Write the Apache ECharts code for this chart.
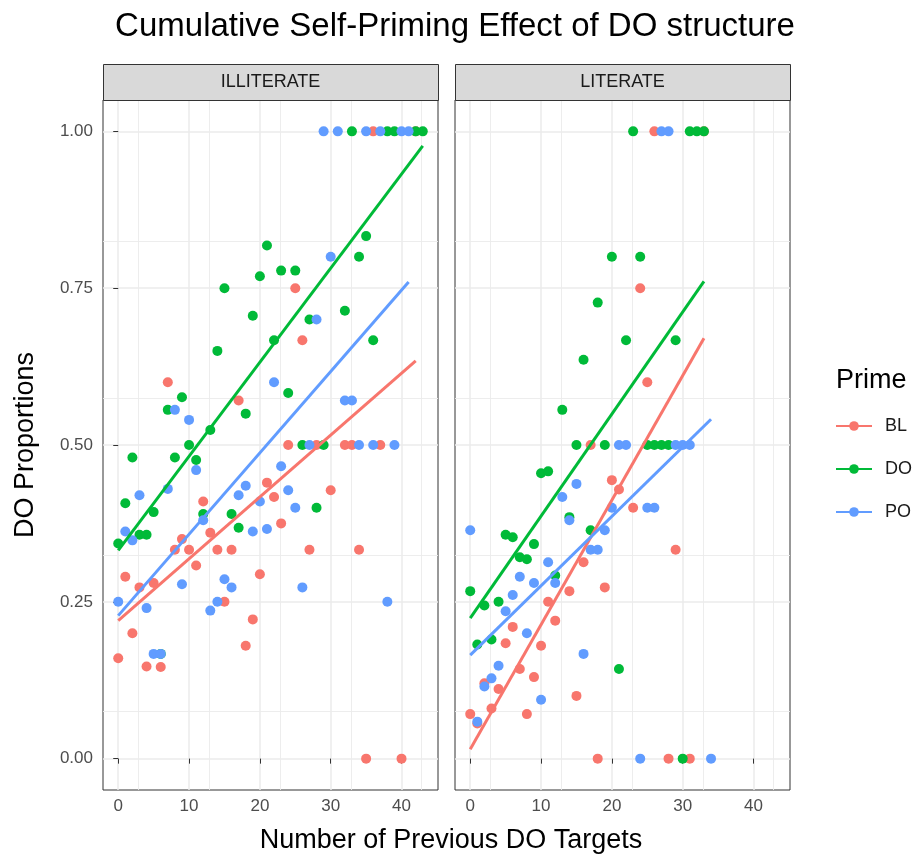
<!DOCTYPE html>
<html>
<head>
<meta charset="utf-8">
<script src="https://cdn.jsdelivr.net/npm/echarts@6/dist/echarts.min.js"></script>
<style>
html, body { margin: 0; padding: 0; background: #ffffff; }
#chart { width: 924px; height: 859px; }
</style>
</head>
<body>
<div id="chart"></div>
<script>
// Facets, prime conditions and axis ticks
const panels = ['ILLITERATE', 'LITERATE'];
const primes = ['BL', 'DO', 'PO'];
const primeColors = ['#F8766D', '#00BA38', '#619CFF'];
const xTicks = [0, 10, 20, 30, 40];
const yTicks = [0, 0.25, 0.5, 0.75, 1];

// ILLITERATE: [previous DO targets, DO proportion]
const illiterateBL = [
  [0,0.16],[1,0.29],[2,0.2],[3,0.273],[4,0.147],[5,0.28],[6,0.146],[7,0.6],[8,0.333],[9,0.35],
  [10,0.333],[11,0.308],[12,0.41],[13,0.36],[14,0.333],[15,0.25],[16,0.333],[17,0.571],[18,0.18],[19,0.222],
  [20,0.294],[21,0.44],[22,0.417],[23,0.375],[24,0.5],[25,0.75],[26,0.667],[27,0.333],[28,0.5],[30,0.428],
  [32,0.5],[33,0.5],[34,0.333],[35,0],[36,1],[37,0.5],[40,0],[42,1]
];
const illiterateDO = [
  [0,0.343],[1,0.407],[2,0.48],[3,0.357],[4,0.357],[5,0.393],[6,0.167],[7,0.556],[8,0.48],[9,0.576],
  [10,0.5],[11,0.476],[12,0.39],[13,0.524],[14,0.65],[15,0.75],[16,0.39],[17,0.368],[18,0.55],[19,0.706],
  [20,0.769],[21,0.818],[22,0.667],[23,0.778],[24,0.583],[25,0.778],[26,0.5],[27,0.7],[28,0.4],[29,0.5],
  [32,0.714],[33,1],[34,0.8],[35,0.833],[36,0.667],[38,1],[39,1],[42,1],[43,1]
];
const illiteratePO = [
  [0,0.25],[1,0.362],[2,0.348],[3,0.42],[4,0.24],[5,0.167],[6,0.167],[7,0.43],[8,0.556],[9,0.278],
  [10,0.54],[11,0.46],[12,0.38],[13,0.236],[14,0.25],[15,0.286],[16,0.273],[17,0.42],[18,0.435],[19,0.362],
  [20,0.41],[21,0.366],[22,0.6],[23,0.466],[24,0.428],[25,0.4],[26,0.273],[27,0.5],[28,0.7],[29,1],
  [30,0.8],[31,1],[32,0.571],[33,0.571],[34,0.5],[35,1],[36,0.5],[37,1],[38,0.25],[39,0.5],[40,1],[41,1]
];

// LITERATE
const literateBL = [
  [0,0.071],[1,0.056],[2,0.12],[3,0.08],[4,0.111],[5,0.184],[6,0.21],[7,0.143],[8,0.071],[9,0.13],
  [10,0.18],[11,0.25],[12,0.22],[14,0.267],[15,0.1],[16,0.313],[17,0.5],[18,0],[19,0.273],[20,0.444],
  [21,0.429],[23,0.4],[24,0.75],[25,0.6],[26,1],[28,0],[29,0.333],[31,0],[33,1]
];
const literateDO = [
  [0,0.267],[1,0.182],[2,0.244],[3,0.19],[4,0.25],[5,0.357],[6,0.353],[7,0.321],[8,0.318],[9,0.342],
  [10,0.455],[11,0.458],[12,0.292],[13,0.556],[14,0.385],[15,0.5],[16,0.636],[17,0.364],[18,0.727],[19,0.5],
  [20,0.8],[21,0.143],[22,0.667],[23,1],[24,0.8],[25,0.5],[26,0.5],[27,0.5],[28,0.5],[29,0.667],
  [30,0],[31,1],[32,1],[33,1]
];
const literatePO = [
  [0,0.364],[1,0.059],[2,0.115],[3,0.128],[4,0.148],[5,0.235],[6,0.261],[7,0.29],[8,0.2],[9,0.28],
  [10,0.094],[11,0.313],[12,0.28],[13,0.417],[14,0.38],[15,0.438],[16,0.167],[17,0.333],[18,0.333],[19,0.364],
  [20,0.4],[21,0.5],[22,0.5],[24,0],[25,0.4],[26,0.4],[27,1],[28,1],[29,0.5],[30,0.5],[31,0.5],[34,0]
];

// Linear fits (start and end of each fitted line)
const fitIlliterateBL = [[0,0.22],[42,0.634]];
const fitIlliterateDO = [[0,0.332],[43,0.977]];
const fitIlliteratePO = [[0,0.228],[41,0.76]];
const fitLiterateBL = [[0,0.015],[33,0.67]];
const fitLiterateDO = [[0,0.224],[33,0.761]];
const fitLiteratePO = [[0,0.165],[34,0.541]];

const pointsByPanel = [
  [illiterateBL, illiterateDO, illiteratePO],
  [literateBL, literateDO, literatePO]
];
const fitsByPanel = [
  [fitIlliterateBL, fitIlliterateDO, fitIlliteratePO],
  [fitLiterateBL, fitLiterateDO, fitLiteratePO]
];

const FONT = 'Liberation Sans, Arial, Helvetica, sans-serif';
const panelLeft = [103, 455];
const panelTop = 100;
const panelW = 335;
const panelH = 690;
const stripH = 36;

const grids = panelLeft.map(l => ({
  left: l, top: panelTop, width: panelW, height: panelH,
  show: true, backgroundColor: '#ffffff', borderColor: '#333333', borderWidth: 1
}));

const gridLine = { color: '#ebebeb', width: 1.5 };
const minorLine = { color: '#ebebeb', width: 0.9 };

const xAxes = panelLeft.map((l, i) => ({
  type: 'value', gridIndex: i, min: -2.15, max: 45.15, interval: 10,
  axisLine: { show: false },
  axisTick: { show: true, length: 5, customValues: xTicks, lineStyle: { color: '#333333', width: 1 } },
  axisLabel: { customValues: xTicks, color: '#4d4d4d', fontSize: 17, fontFamily: FONT, margin: 8 },
  splitLine: { show: true, lineStyle: gridLine },
  minorTick: { show: false, splitNumber: 2 },
  minorSplitLine: { show: true, lineStyle: minorLine }
}));

const yAxes = panelLeft.map((l, i) => ({
  type: 'value', gridIndex: i, min: -0.05, max: 1.05, interval: 0.25,
  axisLine: { show: false },
  axisTick: { show: i === 0, length: 5, customValues: yTicks, lineStyle: { color: '#333333', width: 1 } },
  axisLabel: {
    show: i === 0, customValues: yTicks, color: '#4d4d4d', fontSize: 17, fontFamily: FONT, margin: 10,
    formatter: v => v.toFixed(2)
  },
  splitLine: { show: true, lineStyle: gridLine },
  minorTick: { show: false, splitNumber: 2 },
  minorSplitLine: { show: true, lineStyle: minorLine },
  name: i === 0 ? 'DO Proportions' : '',
  nameLocation: 'middle', nameGap: 64, nameRotate: 90,
  nameTextStyle: { color: '#000000', fontSize: 27, fontFamily: FONT }
}));

const series = [];
// fitted lines first so each legend key shows a line with a dot
panels.forEach((p, pi) => {
  primes.forEach((name, k) => {
    series.push({
      type: 'line', name, xAxisIndex: pi, yAxisIndex: pi,
      data: fitsByPanel[pi][k],
      symbol: 'circle', symbolSize: 10, showSymbol: false,
      lineStyle: { color: primeColors[k], width: 3 },
      itemStyle: { color: primeColors[k] },
      z: 4, silent: true, animation: false
    });
  });
});
panels.forEach((p, pi) => {
  primes.forEach((name, k) => {
    series.push({
      type: 'scatter', name, xAxisIndex: pi, yAxisIndex: pi,
      data: pointsByPanel[pi][k],
      symbol: 'circle', symbolSize: 10,
      itemStyle: { color: primeColors[k], opacity: 1 },
      z: 3, silent: true, animation: false
    });
  });
});

// facet strips
const graphics = [];
panels.forEach((p, pi) => {
  graphics.push({
    type: 'rect',
    shape: { x: panelLeft[pi] + 0.5, y: panelTop - stripH + 0.5, width: panelW, height: stripH },
    style: { fill: '#d9d9d9', stroke: '#333333', lineWidth: 1 },
    z: 10
  });
  graphics.push({
    type: 'text',
    x: panelLeft[pi] + panelW / 2, y: panelTop - stripH / 2,
    style: { text: p, fill: '#1a1a1a', font: '18px ' + FONT, align: 'center', verticalAlign: 'middle' },
    z: 11
  });
});

const chart = echarts.init(document.getElementById('chart'), null, { renderer: 'canvas' });
chart.setOption({
  animation: false,
  backgroundColor: '#ffffff',
  title: [
    { text: 'Cumulative Self-Priming Effect of DO structure', left: 450, top: 5, textAlign: 'center',
      textStyle: { color: '#000000', fontSize: 33, fontWeight: 'normal', fontFamily: FONT } },
    { text: 'Number of Previous DO Targets', left: 446, top: 822, textAlign: 'center',
      textStyle: { color: '#000000', fontSize: 27, fontWeight: 'normal', fontFamily: FONT } },
    { text: 'Prime', left: 831, top: 362,
      textStyle: { color: '#000000', fontSize: 27, fontWeight: 'normal', fontFamily: FONT } }
  ],
  legend: {
    data: primes, orient: 'vertical', left: 835, top: 417, padding: 0,
    itemWidth: 36, itemHeight: 12, itemGap: 25,
    textStyle: { color: '#1a1a1a', fontSize: 18, fontFamily: FONT, padding: [0, 0, 0, 8] },
    selectedMode: false
  },
  grid: grids,
  xAxis: xAxes,
  yAxis: yAxes,
  series,
  graphic: graphics
});
</script>
</body>
</html>
